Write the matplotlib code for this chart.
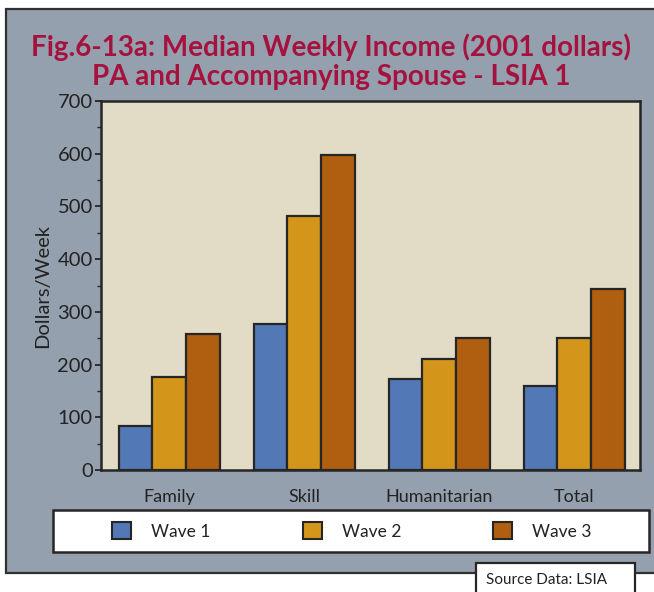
import matplotlib
matplotlib.use("Agg")
import matplotlib.pyplot as plt
import numpy as np
from matplotlib.patches import Rectangle, Patch

plt.rcParams['font.family'] = ['Lato', 'DejaVu Sans']

categories = ["Family", "Skill", "Humanitarian", "Total"]
series_names = ["Wave 1", "Wave 2", "Wave 3"]
wave1 = [83, 277, 173, 160]
wave2 = [177, 482, 211, 250]
wave3 = [258, 598, 250, 343]
y_ticks = [0, 100, 200, 300, 400, 500, 600, 700]

colors = ["#5279B5", "#D4961A", "#B05E10"]
edge = "#262626"
W, H = 654, 592

fig = plt.figure(figsize=(W / 100, H / 100), dpi=100)
fig.patch.set_facecolor("white")

def fx(px):
    return px / W

def fy(py):
    return 1 - py / H

# grey panel
fig.add_artist(Rectangle((fx(6), fy(573)), fx(700) - fx(6), fy(9) - fy(573),
                         transform=fig.transFigure, facecolor="#95A0AE",
                         edgecolor="#303030", linewidth=1.6, zorder=0))

ax = fig.add_axes([fx(101), fy(470), fx(640) - fx(101), fy(101) - fy(470)])
ax.set_facecolor("#E2DBC5")

x = np.arange(len(categories))
bw = 0.25
for i, (vals, c) in enumerate(zip([wave1, wave2, wave3], colors)):
    ax.bar(x + (i - 1) * bw, vals, width=bw, color=c, edgecolor=edge,
           linewidth=1.6, zorder=3)

ax.set_xlim(-0.506, 3.487)
ax.set_ylim(0, 700)
ax.set_yticks(y_ticks)
ax.set_yticklabels([str(v) for v in y_ticks], fontsize=14.5, color="#222222")
ax.set_yticks(np.arange(50, 700, 100), minor=True)
ax.tick_params(axis="y", which="major", direction="out", length=4, width=1.3, pad=2, color=edge)
ax.tick_params(axis="y", which="minor", direction="out", length=3, width=1.0, color=edge)
ax.set_xticks(x)
ax.set_xticklabels(categories, fontsize=13, color="#222222")
ax.tick_params(axis="x", length=0, pad=14)
for s in ax.spines.values():
    s.set_color(edge)
    s.set_linewidth(1.8)
ax.set_ylabel("Dollars/Week", fontsize=14.5, color="#222222")
ax.yaxis.set_label_coords(-0.092, 0.5)

# title
fig.text(fx(331), fy(47), "Fig.6-13a: Median Weekly Income (2001 dollars)",
         ha="center", va="center", fontsize=20, fontweight="bold", color="#A5123E")
fig.text(fx(331), fy(77), "PA and Accompanying Spouse - LSIA 1",
         ha="center", va="center", fontsize=20, fontweight="bold", color="#A5123E")

# legend box
fig.add_artist(Rectangle((fx(53), fy(552)), fx(649) - fx(53), fy(510) - fy(552),
                         transform=fig.transFigure, facecolor="white",
                         edgecolor=edge, linewidth=1.8, zorder=1))
handles = [Patch(facecolor=c, edgecolor=edge, linewidth=1.5) for c in colors]
leg = fig.legend(handles, series_names, loc="center", ncol=3,
                 bbox_to_anchor=(fx(352), fy(531)), frameon=False,
                 fontsize=12.5, handlelength=1.1, handleheight=1.1,
                 handletextpad=1.15, columnspacing=5.3)
for t in leg.get_texts():
    t.set_color("#222222")

# source box
fig.add_artist(Rectangle((fx(476), fy(620)), fx(635) - fx(476), fy(563) - fy(620),
                         transform=fig.transFigure, facecolor="white",
                         edgecolor=edge, linewidth=1.6, zorder=2))
fig.text(fx(486), fy(580), "Source Data: LSIA", ha="left", va="center",
         fontsize=11, color="#222222", zorder=3)

fig.savefig("out.png", dpi=100)
